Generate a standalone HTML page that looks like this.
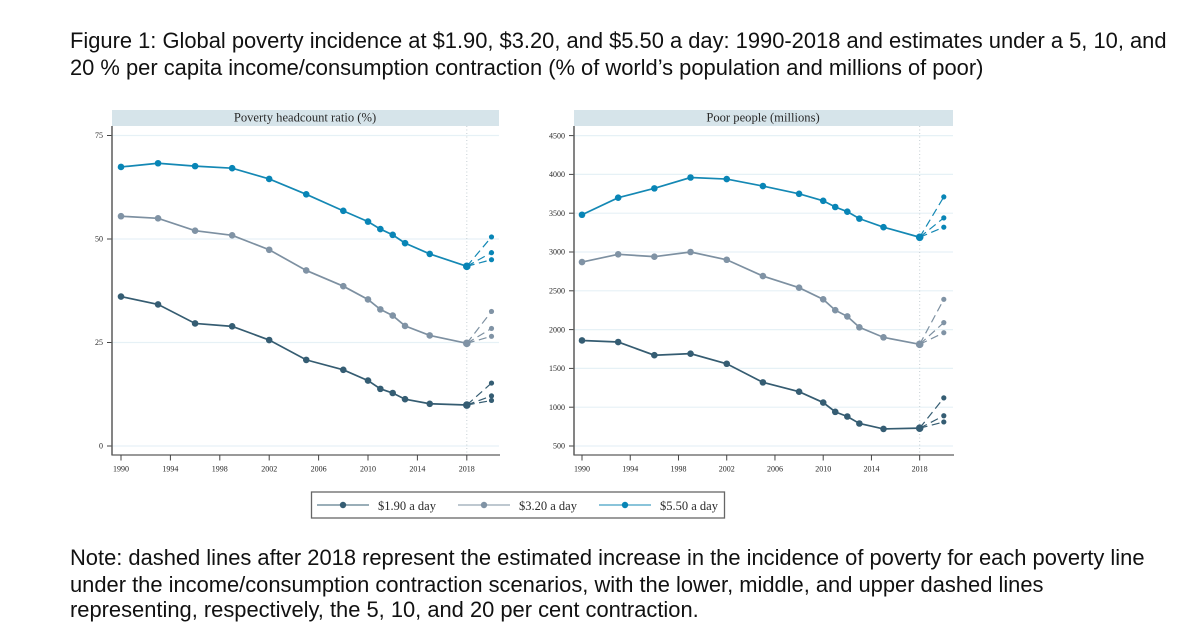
<!DOCTYPE html>
<html lang="en">
<head>
<meta charset="utf-8">
<title>Global poverty incidence</title>
<style>
html,body{margin:0;padding:0;background:#fff;}
#page{position:relative;width:1200px;height:626px;overflow:hidden;background:#fff;}
.copy{position:absolute;left:70px;margin:0;font-family:"Liberation Sans",sans-serif;font-size:21.9px;color:#111;white-space:nowrap;}
svg{position:absolute;left:0;top:0;}
svg text{font-family:"Liberation Serif",serif;fill:#2a2a2a;}
</style>
</head>
<body>
<div id="page">
  <p class="copy" style="top:28px">Figure 1: Global poverty incidence at $1.90, $3.20, and $5.50 a day: 1990-2018 and estimates under a 5, 10, and</p>
  <p class="copy" style="top:55px">20 % per capita income/consumption contraction (% of world’s population and millions of poor)</p>
  <svg id="chart" width="1200" height="626" viewBox="0 0 1200 626"></svg>
  <p class="copy" style="top:545px">Note: dashed lines after 2018 represent the estimated increase in the incidence of poverty for each poverty line</p>
  <p class="copy" style="top:572px">under the income/consumption contraction scenarios, with the lower, middle, and upper dashed lines</p>
  <p class="copy" style="top:597px">representing, respectively, the 5, 10, and 20 per cent contraction.</p>
</div>
<script>
const years = [1990, 1993, 1996, 1999, 2002, 2005, 2008, 2010, 2011, 2012, 2013, 2015, 2018];
const xTickYears = [1990, 1994, 1998, 2002, 2006, 2010, 2014, 2018];
const projectionYear = 2020;
const seriesLabels = ['$1.90 a day', '$3.20 a day', '$5.50 a day'];

const ratioTicks = [0, 25, 50, 75];
const ratio190 = [36.1, 34.2, 29.6, 28.9, 25.6, 20.8, 18.4, 15.8, 13.8, 12.8, 11.3, 10.2, 9.9];
const ratio320 = [55.5, 55.0, 52.0, 50.9, 47.4, 42.4, 38.6, 35.4, 33.0, 31.5, 29.0, 26.7, 24.8];
const ratio550 = [67.4, 68.3, 67.6, 67.1, 64.5, 60.8, 56.8, 54.2, 52.4, 51.0, 49.0, 46.4, 43.4];
const ratioProj190 = [11.0, 12.1, 15.2];
const ratioProj320 = [26.5, 28.4, 32.5];
const ratioProj550 = [45.0, 46.7, 50.5];

const peopleTicks = [500, 1000, 1500, 2000, 2500, 3000, 3500, 4000, 4500];
const people190 = [1860, 1840, 1670, 1690, 1560, 1320, 1200, 1060, 940, 880, 790, 720, 730];
const people320 = [2870, 2970, 2940, 3000, 2900, 2690, 2540, 2390, 2250, 2170, 2030, 1900, 1810];
const people550 = [3480, 3700, 3820, 3960, 3940, 3850, 3750, 3660, 3580, 3520, 3430, 3320, 3190];
const peopleProj190 = [810, 890, 1120];
const peopleProj320 = [1960, 2090, 2390];
const peopleProj550 = [3320, 3440, 3710];

const NS = 'http://www.w3.org/2000/svg';
const svg = document.getElementById('chart');
const lineColors = ['#355c71', '#7d90a1', '#1488b4'];
const dotColors = ['#355d73', '#8093a5', '#0885b6'];

function make(tag, attrs, parent) {
  const el = document.createElementNS(NS, tag);
  for (const k in attrs) el.setAttribute(k, attrs[k]);
  parent.appendChild(el);
  return el;
}

function drawPanel(cfg) {
  const g = make('g', {style: 'filter:blur(0.3px)'}, svg);
  
  
  const xS = yr => cfg.x0 + (yr - 1990) * cfg.xPer;
  const yS = v => cfg.yZero - (v - cfg.vZero) * cfg.yPer;

  const strip = make('rect', {x: cfg.left, y: 110, width: cfg.right - cfg.left, height: 16, fill: '#d6e4ea'}, g);
  
  
  const title = make('text', {x: (cfg.left + cfg.right) / 2 - 0.5, y: 121.5, 'text-anchor': 'middle', 'font-size': 12.6}, g);
  title.textContent = cfg.title;
  
  

  cfg.ticks.forEach(t => {
    const y = yS(t);
    const grid = make('line', {x1: cfg.left, x2: cfg.right, y1: y, y2: y, stroke: '#e6f1f6', 'stroke-width': 1.2}, g);
    
    
    make('line', {x1: cfg.left - 5, x2: cfg.left, y1: y, y2: y, stroke: '#444', 'stroke-width': 1}, g);
    const lab = make('text', {x: cfg.left - 9, y: y + 2.7, 'text-anchor': 'end', 'font-size': 8}, g);
    lab.textContent = t;
    
    
  });

  const refLine = make('line', {x1: xS(2018), x2: xS(2018), y1: 126, y2: 455, stroke: '#c4ced3', 'stroke-width': 1, 'stroke-dasharray': '1 2.5'}, g);
  
  

  const yAxis = make('line', {x1: cfg.left, x2: cfg.left, y1: 126, y2: 455.5, stroke: '#5c5c5c', 'stroke-width': 1.5}, g);
  
  
  const xAxis = make('line', {x1: cfg.left, x2: cfg.right + 1, y1: 455, y2: 455, stroke: '#5c5c5c', 'stroke-width': 1.2}, g);
  
  

  xTickYears.forEach(yr => {
    make('line', {x1: xS(yr), x2: xS(yr), y1: 455, y2: 460.5, stroke: '#444', 'stroke-width': 1}, g);
    const lab = make('text', {x: xS(yr), y: 471.5, 'text-anchor': 'middle', 'font-size': 8}, g);
    lab.textContent = yr;
    
    
  });

  cfg.series.forEach((vals, i) => {
    const sg = make('g', {}, g);
    
    
    const last = vals[vals.length - 1];
    cfg.proj[i].forEach(p => {
      const dash = make('line', {x1: xS(2018), y1: yS(last), x2: xS(projectionYear), y2: yS(p), stroke: lineColors[i], 'stroke-width': 1.2, 'stroke-dasharray': '8 4.5'}, sg);
      
      
      const pd = make('circle', {cx: xS(projectionYear), cy: yS(p), r: 2.6, fill: dotColors[i]}, sg);
      
      
    });
    const pl = make('polyline', {points: vals.map((v, j) => xS(years[j]) + ',' + yS(v)).join(' '), fill: 'none', stroke: lineColors[i], 'stroke-width': 1.7}, sg);
    
    
    vals.forEach((v, j) => {
      const c = make('circle', {cx: xS(years[j]), cy: yS(v), r: j === vals.length - 1 ? 3.8 : 3.3, fill: dotColors[i]}, sg);
      
      
    });
  });
}

drawPanel({
  name: 'headcount-ratio-panel', title: 'Poverty headcount ratio (%)',
  left: 112, right: 499, x0: 121, xPer: 12.35, yZero: 446, vZero: 0, yPer: 4.14,
  ticks: ratioTicks, series: [ratio190, ratio320, ratio550], proj: [ratioProj190, ratioProj320, ratioProj550]
});
drawPanel({
  name: 'poor-people-panel', title: 'Poor people (millions)',
  left: 574, right: 953, x0: 582, xPer: 12.06, yZero: 446, vZero: 500, yPer: 0.0776,
  ticks: peopleTicks, series: [people190, people320, people550], proj: [peopleProj190, peopleProj320, peopleProj550]
});

const legend = make('g', {style: 'filter:blur(0.3px)'}, svg);


make('rect', {x: 311.5, y: 492, width: 413, height: 26, fill: '#fff', stroke: '#666', 'stroke-width': 1.3}, legend);
seriesLabels.forEach((label, i) => {
  const x = 317 + i * 141;
  const entry = make('g', {}, legend);
  
  
  make('line', {x1: x, x2: x + 52, y1: 505, y2: 505, stroke: lineColors[i], 'stroke-width': 1.1}, entry);
  make('circle', {cx: x + 26, cy: 505, r: 3.2, fill: dotColors[i]}, entry);
  const t = make('text', {x: x + 61, y: 510, 'font-size': 12.5}, entry);
  t.textContent = label;
});
</script>
</body>
</html>
